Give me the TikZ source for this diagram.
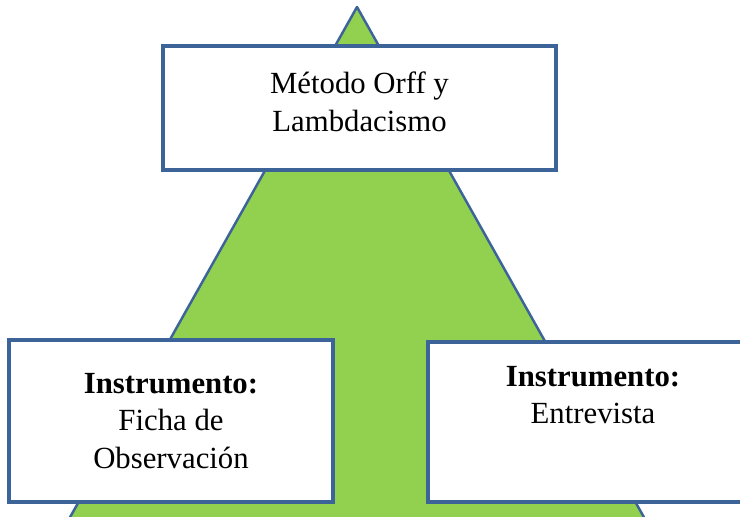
\documentclass[tikz,border=0pt]{standalone}
\usepackage{fontspec}
\setmainfont{Liberation Serif}
\usetikzlibrary{positioning}
\definecolor{leafgreen}{HTML}{92D050}
\definecolor{frameblue}{HTML}{3C6499}

\begin{document}
\begin{tikzpicture}[
    box/.style={rectangle, draw=frameblue, line width=2.6pt, fill=white,
                align=center, font=\fontsize{17.5}{21.5}\selectfont},
    boxtext/.style={align=center, inner sep=0pt, font=\fontsize{17.5}{21.5}\selectfont}
]
    \useasboundingbox (0,0) rectangle (14.8,10.34);
    \clip (0,0) rectangle (14.8,10.34);

    % Green pyramid behind the boxes
    \coordinate (apex) at (7.14,10.2);
    \coordinate (baseL) at (0.56,-1.5);
    \coordinate (baseR) at (13.72,-1.5);
    \filldraw[fill=leafgreen, draw=frameblue, line width=1.4pt, line join=round]
        (apex) -- (baseL) -- (baseR) -- cycle;

    % Top box
    \node at (7.19, 8.18) [box, minimum width=7.86cm, minimum height=2.48cm,
                           text depth=0.24cm] (method)
        {Método Orff y\\Lambdacismo};

    % Bottom left box
    \node at (3.42, 1.92) [box, minimum width=6.48cm, minimum height=3.24cm] (obs)
        {\textbf{Instrumento:}\\Ficha de\\Observación};

    % Bottom right box (runs off the page)
    \node at (11.86, 1.90) [box, minimum width=6.6cm, minimum height=3.2cm] (interview) {};
    \node [boxtext, below=0.52cm of interview.north] (interviewtext)
        {\textbf{Instrumento:}\\Entrevista};
\end{tikzpicture}
\end{document}
